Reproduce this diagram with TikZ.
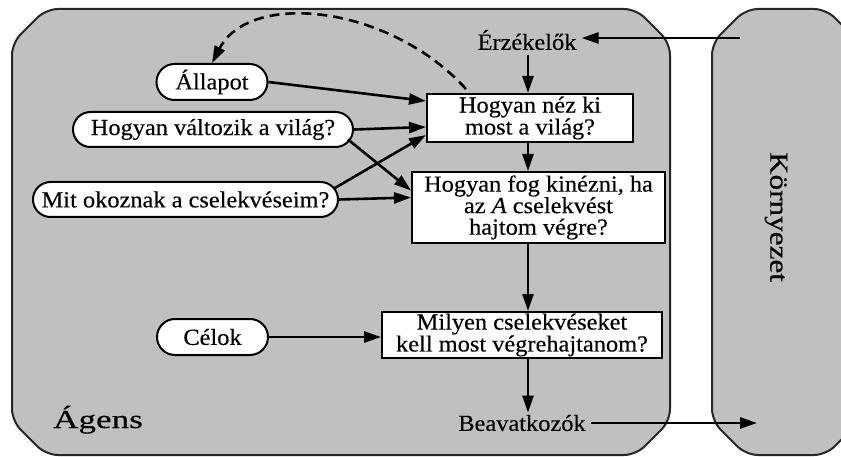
\documentclass[tikz,border=0pt]{standalone}
\usepackage{fontspec}
\setmainfont{Liberation Serif}[FakeStretch=1.06,FakeBold=0.3]
\newfontfamily\envfont{Liberation Serif}[FakeStretch=1.2,FakeBold=0.3]
\newfontfamily\agfont{Liberation Serif}[FakeStretch=1.35,FakeBold=0.3]
\usetikzlibrary{arrows.meta,shapes.misc,calc}
\definecolor{bggray}{RGB}{192,192,192}
\tikzset{
  region/.style={draw=black!85, line width=2pt, fill=bggray, rounded corners=12pt},
  qbox/.style={draw=black, line width=2pt, fill=white, inner sep=0pt, align=center,
    font=\fontsize{23}{20}\selectfont},
  oval/.style={draw=black, line width=2pt, fill=white, rounded rectangle, inner sep=0pt,
    font=\fontsize{23}{20}\selectfont},
  plain/.style={inner sep=5pt, font=\fontsize{23}{20}\selectfont},
  arr/.style={line width=2.6pt, -{Triangle[length=17pt,width=11pt]}},
  dasharr/.style={line width=2.6pt, dash pattern=on 10pt off 6pt, -{Triangle[length=17pt,width=11pt]}}
}
\begin{document}
\begin{tikzpicture}[x=1pt,y=-1pt]
\useasboundingbox (0,0) rectangle (841,457);
\clip (0,0) rectangle (841,457);
\fill[white] (0,0) rectangle (841,457);
% agent region
\draw[region] (12,43) -- (12,421) -- (46,455) -- (636,455) -- (670,421) -- (670,43) -- (636,9) -- (46,9) -- cycle;
% environment region
\draw[region] (712,43) -- (712,421) -- (746,455) -- (826,455) -- (860,421) -- (860,43) -- (826,9) -- (746,9) -- cycle;
\node[rotate=-90, font=\envfont\fontsize{26}{26}\selectfont] (env) at (776,217) {Környezet};
\node[anchor=base west, inner sep=0pt, font=\agfont\fontsize{26}{26}\selectfont] (agens) at (53,428) {Ágens};

% nodes
\node[plain] (erz) at (527,40) {Érzékelők};
\node[qbox, minimum width=206pt, minimum height=48pt] (box1) at (530,118) {Hogyan néz ki\\most a világ?};
\node[qbox, minimum width=253pt, minimum height=71pt, font=\fontsize{23}{21.5}\selectfont] (box2) at (538.5,207.5) {Hogyan fog kinézni, ha\\az \textit{A} cselekvést\\hajtom végre?};
\node[qbox, minimum width=280pt, minimum height=46pt] (box3) at (522,335) {Milyen cselekvéseket\\kell most végrehajtanom?};
\node[plain] (beav) at (522,423) {Beavatkozók};
\node[oval, minimum width=111pt, minimum height=36pt] (all) at (212,82) {Állapot};
\node[oval, minimum width=280pt, minimum height=35pt] (valt) at (213,129.5) {Hogyan változik a világ?};
\node[oval, minimum width=305pt, minimum height=35pt] (mit) at (185.5,199.5) {Mit okoznak a cselekvéseim?};
\node[oval, minimum width=111pt, minimum height=36pt] (celok) at (212.5,337) {Célok};

\coordinate (envout) at (740,38);
\coordinate (envin) at (757,423);

% connectors
\draw[arr] (envout) -- (envout -| erz.east);
\draw[arr] (erz.south -| box1.south) ++(-2,0) coordinate (c1) -- (c1 |- box1.north);
\draw[arr] ($(box1.south)+(-2,0)$) coordinate (c2) -- (c2 |- box2.north);
\draw[arr] (c2 |- box2.south) -- (c2 |- box3.north);
\draw[arr] (c2 |- box3.south) -- ($(c2 |- beav.north)+(0,3)$);
\draw[arr] (beav.east) -- (envin);

\draw[arr] (all.east) -- ([yshift=17pt]box1.west);
\draw[arr] (valt.east) -- ([yshift=-9pt]box1.west);
\draw[arr] ($(valt.east)+(-6,10)$) -- ([yshift=17pt]box2.west);
\draw[arr] ($(mit.east)+(-5,-11)$) -- ([yshift=-17pt]box1.west);
\draw[arr] (mit.east) -- ([yshift=10pt]box2.west);
\draw[arr] (celok.east) -- (celok.east -| box3.west);

\draw[dasharr] ($(box1.north west)+(40,-4)$) .. controls (390,5) and (250,-10) .. (all.north);
\end{tikzpicture}
\end{document}
